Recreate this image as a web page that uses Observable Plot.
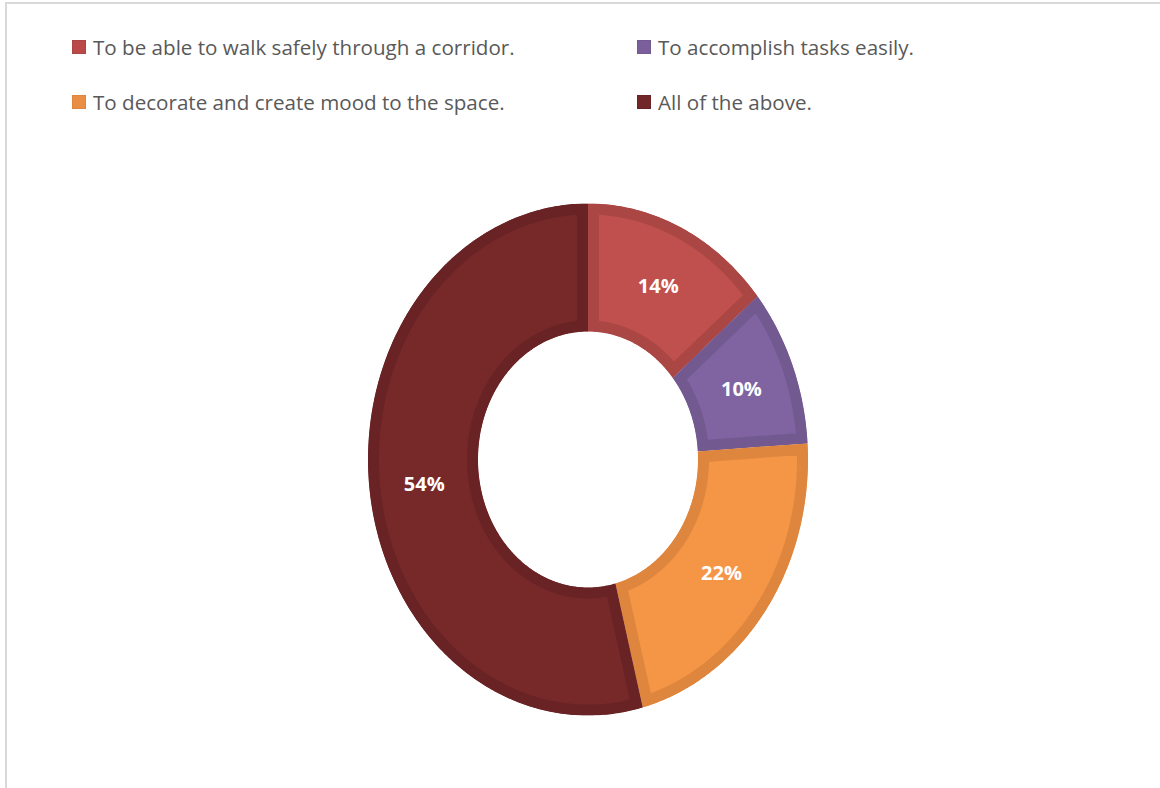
<!DOCTYPE html>
<html>
<head>
<meta charset="utf-8">
<script src="https://cdn.jsdelivr.net/npm/d3@7"></script>
<script src="https://cdn.jsdelivr.net/npm/@observablehq/plot@0.6"></script>
<style>
  html, body { margin: 0; padding: 0; background: #ffffff; }
  #page { position: relative; width: 1160px; height: 788px; overflow: hidden; font-family: "Open Sans", sans-serif; }
  #frameTop { position: absolute; left: 5px; top: 2px; width: 1200px; height: 2px; background: #d9d9d9; }
  #frameLeft { position: absolute; left: 5px; top: 2px; width: 2px; height: 800px; background: #d9d9d9; }
  .item { position: absolute; display: flex; align-items: center; color: #595959; font-size: 20.6px; white-space: nowrap; }
  .sw { width: 14px; height: 14px; margin-right: 7px; box-sizing: border-box; border: 1px solid; flex: none; }
  #chart { position: absolute; left: 0; top: 150px; }
</style>
</head>
<body>
<div id="page">
  <div id="frameTop"></div>
  <div id="frameLeft"></div>
  <div id="legend"></div>
  <div id="chart"></div>
</div>
<script>
// ---- data ----
const categories = [
  "To be able to walk safely through a corridor.",
  "To accomplish tasks easily.",
  "To decorate and create mood to the space.",
  "All of the above."
];
const values = [14, 10, 22, 54];
const labels = ["14%", "10%", "22%", "54%"];
const fillColors = ["#C0504D", "#8064A2", "#F59646", "#77292A"];
const bandColors = ["#AA4643", "#725A91", "#DE863E", "#692324"];
const legendColors = ["#B94A48", "#7A5F9C", "#E98E43", "#712627"];

// ---- legend ----
const legendPos = [[72, 47], [637, 47], [72, 102], [637, 102]];
const legend = document.getElementById("legend");
categories.forEach((c, i) => {
  const it = document.createElement("div");
  it.className = "item";
  it.style.left = legendPos[i][0] + "px";
  it.style.top = (legendPos[i][1] - 14) + "px";
  it.style.height = "28px";
  const sw = document.createElement("span");
  sw.className = "sw";
  sw.style.background = legendColors[i];
  sw.style.borderColor = bandColors[i];
  const tx = document.createElement("span");
  tx.textContent = c;
  it.appendChild(sw);
  it.appendChild(tx);
  legend.appendChild(it);
});

// ---- geometry in data space (unit circle) ----
const inner = 0.5, outer = 1;
const arcs = d3.pie().sort(null).startAngle(0).endAngle(2 * Math.PI)(values);
const slices = arcs.map((a, i) => {
  const pts = [];
  const n = Math.max(8, Math.ceil((a.endAngle - a.startAngle) / 0.01));
  for (let k = 0; k <= n; k++) {
    const t = a.startAngle + (a.endAngle - a.startAngle) * k / n;
    pts.push({x: outer * Math.sin(t), y: outer * Math.cos(t), cat: categories[i]});
  }
  for (let k = n; k >= 0; k--) {
    const t = a.startAngle + (a.endAngle - a.startAngle) * k / n;
    pts.push({x: inner * Math.sin(t), y: inner * Math.cos(t), cat: categories[i]});
  }
  return pts;
});
const labelData = arcs.map((a, i) => {
  const m = (a.startAngle + a.endAngle) / 2, r = (inner + outer) / 2;
  return {x: r * Math.sin(m), y: r * Math.cos(m), label: labels[i]};
});

const top0 = 150;
const chart = Plot.plot({
  width: 1160,
  height: 620,
  margin: 0,
  style: {fontFamily: "Open Sans", background: "transparent", overflow: "visible"},
  x: {domain: [-1, 1], range: [367.5, 807.5], axis: null},
  y: {domain: [-1, 1], range: [715 - top0, 203 - top0], axis: null},
  marks: [
    ...slices.map((pts, i) => Plot.line(pts, {
      x: "x", y: "y", curve: "linear-closed",
      fill: fillColors[i], stroke: bandColors[i], strokeWidth: 22, strokeLinejoin: "miter"
    })),
    Plot.text(labelData, {
      x: "x", y: "y", text: "label", fill: "white", fontWeight: "bold", fontSize: 20, dy: 1
    })
  ]
});

// clip each slice to its own outline so the band sits inside it
const ns = "http://www.w3.org/2000/svg";
let defs = chart.querySelector("defs");
if (!defs) { defs = document.createElementNS(ns, "defs"); chart.insertBefore(defs, chart.firstChild); }
chart.querySelectorAll('g[aria-label="line"] path').forEach((p, i) => {
  const cp = document.createElementNS(ns, "clipPath");
  cp.setAttribute("id", "sliceclip" + i);
  const cpp = document.createElementNS(ns, "path");
  cpp.setAttribute("d", p.getAttribute("d"));
  cp.appendChild(cpp);
  defs.appendChild(cp);
  p.setAttribute("clip-path", "url(#sliceclip" + i + ")");
});
document.getElementById("chart").appendChild(chart);
</script>
</body>
</html>
